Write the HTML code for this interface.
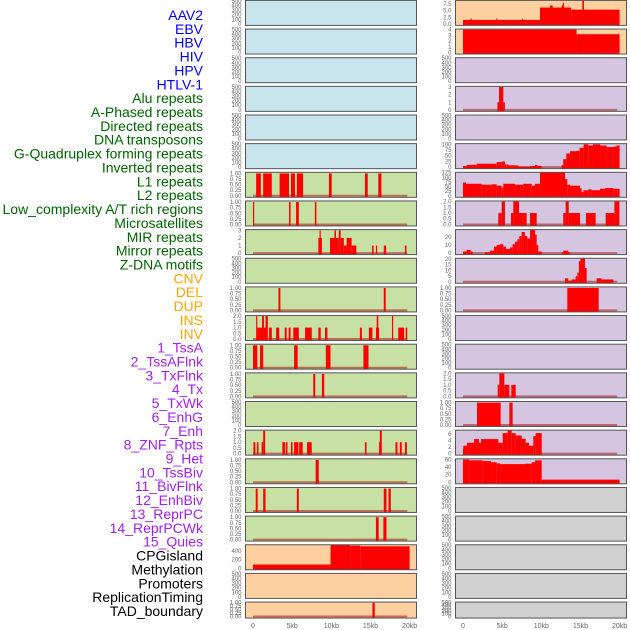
<!DOCTYPE html>
<html><head><meta charset="utf-8"><style>
html,body{margin:0;padding:0;background:#fff;width:630px;height:630px;overflow:hidden}
svg{display:block;font-family:"Liberation Sans",sans-serif}
</style></head><body>
<svg id="chart" width="630" height="630" viewBox="0 0 630 630">
<g id="labels"></g>
<g id="panels"></g>
<g id="xaxis"></g>
</svg>
<script>
const NS="http://www.w3.org/2000/svg";
// ---- labels ----
const labelNames=["AAV2","EBV","HBV","HIV","HPV","HTLV-1","Alu repeats","A-Phased repeats","Directed repeats","DNA transposons","G-Quadruplex forming repeats","Inverted repeats","L1 repeats","L2 repeats","Low_complexity A/T rich regions","Microsatellites","MIR repeats","Mirror repeats","Z-DNA motifs","CNV","DEL","DUP","INS","INV","1_TssA","2_TssAFlnk","3_TxFlnk","4_Tx","5_TxWk","6_EnhG","7_Enh","8_ZNF_Rpts","9_Het","10_TssBiv","11_BivFlnk","12_EnhBiv","13_ReprPC","14_ReprPCWk","15_Quies","CPGisland","Methylation","Promoters","ReplicationTiming","TAD_boundary"];
const labelGroups=[6,13,5,15,5];
const groupColors=["#0000ff","#006400","#ffa500","#a020f0","#000000"];
// ---- x ticks ----
const xTicks=[0,5,10,15,20];
const xTickLabels=["0","5kb","10kb","15kb","20kb"];
// ---- tick sets ----
const tEmpty=["0","100","200","300","400","500"];
const tOne=["0.00","0.25","0.50","0.75","1.00"];
const tTwo=["0.0","0.5","1.0","1.5","2.0"];
// ---- left column series (start kb, end kb, value) ----
const L6=[[0.4,1.0,1],[1.3,2.4,1],[3.4,4.6,1],[4.85,5.36,1],[5.6,6.4,1],[9.7,10.05,1],[14.3,14.65,1],[16.0,16.4,1]];
const L7=[[0,0.15,1],[4.6,4.8,1],[5.5,5.85,1],[7.9,8.1,1]];
const L8=[[8.35,8.8,2],[8.5,8.65,3],[9.83,10.4,2],[10.4,10.6,3],[10.6,10.95,2],[10.95,11.2,3],[11.2,11.6,2],[11.6,11.96,1],[11.96,12.6,2],[12.6,13.2,1],[15.2,15.4,1],[15.7,15.85,1],[16.7,17.0,1],[19.4,19.6,1]];
const L10=[[3.25,3.5,1],[16.7,16.95,1]];
const L11=[[0.4,0.55,2],[0.55,0.9,1],[0.9,1.15,1],[1.15,1.4,2],[1.4,1.6,1],[1.6,1.9,2],[2.05,2.4,1],[2.95,3.35,1],[4.05,4.3,1],[4.55,4.8,1],[5.15,5.85,1],[6.65,7.5,1],[8.35,8.65,1],[9.2,9.5,1],[13.65,13.9,1],[14.8,15.25,1],[15.7,16.1,1],[15.8,16.0,2],[17.75,17.9,2],[18.55,19.3,1],[19.5,19.7,1]];
const L12=[[0,0.55,1],[0.9,1.3,1],[5.25,5.7,1],[9.3,9.9,1],[14.1,14.75,1]];
const L13=[[7.7,7.95,1],[8.8,9.1,1]];
const L15=[[0.05,0.3,1],[0.5,0.7,1],[1.1,1.3,1],[1.3,1.55,2],[3.75,4.1,1],[4.2,4.4,1],[4.85,5.05,1],[5.25,5.8,1],[5.9,6.35,1],[6.9,7.5,1],[14.3,14.5,1],[16.1,16.2,1],[16.2,16.45,2],[18.2,18.45,1],[18.75,19.0,1],[19.4,19.65,1]];
const L16=[[8.0,8.4,1]];
const L17=[[0.35,0.6,1],[1.3,1.6,1],[5.6,5.85,1],[16.7,17.05,1],[17.3,17.6,1]];
const L18=[[15.7,16.05,1],[16.65,17.05,1]];
const L19=[[0,9.9,87],[9.9,12.4,540],[12.4,13.7,525],[13.7,20,510]];
const L21=[[15.25,15.55,1]];
// ---- right column series ----
const R0=[[0,9.83,1.5],[0.95,1.1,2],[4.25,4.4,2],[7.55,7.7,2],[9.83,13.8,6.2],[11.1,11.45,7],[12.6,12.9,7],[12.75,12.9,8],[13.8,20,5.4],[15.24,15.45,9.5]];
const R1=[[0,14.5,4],[14.5,20,3.2]];
const R3=[[4.4,4.6,1],[4.6,5.15,3],[5.15,5.35,1]];
const R5=[[0,0.47,5],[0.47,1.75,10],[1.75,4.3,15],[4.3,4.94,22],[4.94,5.36,25],[5.36,5.79,12],[5.79,7.07,8],[7.07,8.56,2],[8.56,10.05,5],[9.2,9.5,10],[12.6,12.8,10],[12.8,13.2,35],[13.2,13.67,60],[13.67,14.5,70],[14.5,14.9,72],[14.9,15.4,85],[15.4,16.0,100],[16.0,16.6,95],[16.6,17.5,100],[17.5,18.35,95],[18.35,19.2,88],[19.2,19.6,90],[19.6,20.0,95]];
const R6=[[0,0.38,72],[0.38,2.38,65],[2.38,3.66,60],[3.66,4.3,62],[4.3,4.94,55],[4.94,5.15,45],[5.15,6.64,65],[6.64,7.7,60],[7.7,8.77,65],[8.77,9.2,55],[9.2,9.83,65],[9.83,13.03,127],[13.03,13.32,90],[13.32,13.67,60],[13.67,14.94,55],[14.94,15.16,40],[15.16,15.37,20],[15.37,16.0,30],[16.0,16.43,35],[16.43,17.5,30],[17.5,18.14,38],[18.14,19.2,42],[19.2,20.0,38]];
const R7=[[4.51,4.94,1],[4.94,5.36,2],[6.13,6.43,1],[6.43,7.15,2],[7.15,8.13,1],[8.56,9.41,1],[12.8,13.11,1],[13.11,13.5,2],[13.5,14.94,1],[15.7,16.94,1],[18.22,19.33,1],[19.33,19.97,2]];
const R8=[[0,0.47,2],[0.47,0.98,4],[0.98,1.23,2],[2.81,3.45,1],[3.45,3.96,3],[3.96,4.3,8],[4.3,4.73,10],[4.73,5.15,11],[5.15,5.49,8],[5.49,6.0,5],[6.0,6.34,7],[6.34,6.64,11],[6.64,6.94,14],[6.94,7.19,17],[7.19,7.49,21],[7.49,7.92,26],[7.92,8.22,21],[8.22,8.56,18],[8.56,9.2,29],[9.2,9.41,23],[9.41,9.62,10],[9.62,10.05,2],[12.6,12.8,1],[12.8,13.45,3],[13.45,13.67,1]];
const R9=[[13.03,13.45,3],[13.45,13.88,1],[13.88,14.39,2],[14.39,14.6,5],[14.6,14.8,8],[14.8,15.0,18],[15.0,15.58,21],[15.58,15.8,12],[17.07,17.7,3],[17.7,19.2,2]];
const R10=[[13.32,17.33,1]];
const R13=[[4.43,4.64,1],[4.64,5.28,2],[5.28,5.92,1],[6.17,6.73,1]];
const R14=[[1.79,4.81,1],[5.92,6.34,1]];
const R15=[[0,0.04,1.5],[0.04,0.5,2.4],[0.5,1.4,3.3],[1.4,2.04,4.4],[2.04,2.3,3.3],[2.3,4.51,4.4],[4.51,5.07,3.3],[5.07,5.7,6.2],[5.7,6.22,7],[6.22,6.73,6.2],[6.73,7.49,5.5],[7.49,8.0,4.5],[8.0,8.43,3.3],[8.43,8.98,2.4],[8.98,9.28,5.3],[9.28,10.05,6.2]];
const R16=[[0,0.81,60],[0.81,2.51,58],[2.51,3.58,56],[3.58,4.3,53],[4.3,4.73,50],[4.73,7.92,48],[7.92,8.77,49],[8.77,9.2,53],[9.2,10.05,58],[10.05,20,7]];

const BLUE="#c7e4ec",GREEN="#c7e0a4",ORANGE="#ffd09f",PURPLE="#d5c5e1",GREY="#d0d0d0";
const E=null;
// [series, yMax, ticks, bg]
const leftPanels=[
 [E,510,tEmpty,BLUE],[E,510,tEmpty,BLUE],[E,510,tEmpty,BLUE],[E,510,tEmpty,BLUE],[E,510,tEmpty,BLUE],[E,510,tEmpty,BLUE],
 [L6,1.05,tOne,GREEN],[L7,1.05,tOne,GREEN],[L8,3.1,["0","1","2","3"],GREEN],[E,510,tEmpty,GREEN],[L10,1.05,tOne,GREEN],
 [L11,2.05,tTwo,GREEN],[L12,1.05,tOne,GREEN],[L13,1.05,tOne,GREEN],[E,510,tEmpty,GREEN],[L15,2.05,tTwo,GREEN],
 [L16,1.05,tOne,GREEN],[L17,1.05,tOne,GREEN],[L18,1.05,tOne,GREEN],
 [L19,546,["0","200","400"],ORANGE],[E,510,tEmpty,ORANGE],[L21,1.05,tOne,ORANGE]];
const rightPanels=[
 [R0,8.9,["0.0","2.5","5.0","7.5"],ORANGE],[R1,4.1,["0","1","2","3","4"],ORANGE],
 [E,510,tEmpty,PURPLE],[R3,3.1,["0","1","2","3"],PURPLE],[E,510,tEmpty,PURPLE],
 [R5,103,["0","25","50","75","100"],PURPLE],[R6,127,["0","25","50","75","100","125"],PURPLE],
 [R7,2.05,tTwo,PURPLE],[R8,29,["0","10","20"],PURPLE],[R9,20.5,["0","5","10","15","20"],PURPLE],
 [R10,1.05,tOne,PURPLE],[E,510,tEmpty,PURPLE],[E,510,tEmpty,PURPLE],[R13,2.05,tTwo,PURPLE],
 [R14,1.05,tOne,PURPLE],[R15,7.1,["0","2","4","6"],PURPLE],[R16,62,["0","20","40","60"],PURPLE],
 [E,510,tEmpty,GREY],[E,510,tEmpty,GREY],[E,510,tEmpty,GREY],[E,510,tEmpty,GREY],[E,510,tEmpty,GREY]];

const KB=7.83;
function xScale(col,kb){return (col===0?253:463)+kb*KB;}
function rowTop(i){return 0.4+i*28.65;}
function rowH(i){return i===21?16:25;}

function mk(tag,attrs,parent){const e=document.createElementNS(NS,tag);for(const k in attrs)e.setAttribute(k,attrs[k]);parent.appendChild(e);return e;}

// labels
const lg=document.getElementById("labels");
let idx=0;
labelGroups.forEach((n,g)=>{for(let j=0;j<n;j++){
 const t=mk("text",{x:203,y:15+idx*13.86+5,"text-anchor":"end","font-size":"14",fill:groupColors[g]},lg);
 t.textContent=labelNames[idx];
 
 
 idx++;}});

const pg=document.getElementById("panels");
function drawPanel(col,i,p){
 const [series,yMax,ticks,bg]=p;
 const x0=col===0?245.5:455.5, w=171, top=rowTop(i), h=rowH(i);
 const zeroY=top+h-1.5;
 const y=v=>zeroY-(v/yMax)*(h-1.5);
 const g=mk("g",{},pg);
 
 
 const cid="c"+col+"_"+i;
 const cp=mk("clipPath",{id:cid},g);mk("rect",{x:x0,y:top,width:w,height:h},cp);
 const bgR=mk("rect",{x:x0,y:top,width:w,height:h,fill:bg},g);
 
 
 const dg=mk("g",{"clip-path":"url(#"+cid+")"},g);
 if(series){
  const bl=mk("line",{x1:xScale(col,0),x2:xScale(col,19.7),y1:zeroY,y2:zeroY,stroke:"rgba(170,20,20,0.55)","stroke-width":2},dg);
  
  
  series.forEach(s=>{
   const xa=xScale(col,s[0]),xb=xScale(col,s[1]);
   const r=mk("rect",{x:xa,y:y(s[2]),width:Math.max(xb-xa,1.2),height:zeroY-y(s[2])+1.5,fill:"#ff0000"},dg);
   
   
  });
 }
 const br=mk("rect",{x:x0,y:top,width:w,height:h,fill:"none",stroke:"#555","stroke-width":1},g);
 
 
 ticks.forEach(tl=>{
  const t=mk("text",{x:x0-4,y:y(parseFloat(tl))+2,"text-anchor":"end","font-size":"6",fill:"#666"},g);
  t.textContent=tl;
  
  
 });
}
leftPanels.forEach((p,i)=>drawPanel(0,i,p));
rightPanels.forEach((p,i)=>drawPanel(1,i,p));

const xg=document.getElementById("xaxis");
[0,1].forEach(col=>{xTicks.forEach((v,k)=>{
 const t=mk("text",{x:xScale(col,v),y:628,"text-anchor":"middle","font-size":"7",fill:"#666"},xg);
 t.textContent=xTickLabels[k];
 
 
});});
</script>
</body></html>
